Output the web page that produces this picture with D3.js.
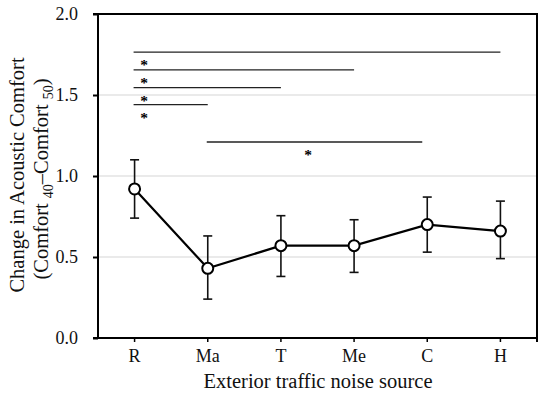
<!DOCTYPE html>
<html><head><meta charset="utf-8">
<script src="https://cdn.jsdelivr.net/npm/d3@7"></script>
<style>body{margin:0;background:#fff}svg{display:block}text{font-family:"Liberation Serif","Times New Roman",serif}</style>
</head><body><svg id="c" width="550" height="396"></svg>
<script>
const categories = ["R","Ma","T","Me","C","H"];
const means = [0.92,0.43,0.57,0.57,0.70,0.66];
const upper = [1.10,0.63,0.755,0.73,0.87,0.845];
const lower = [0.74,0.24,0.38,0.405,0.53,0.49];
const yTicks = [0.0,0.5,1.0,1.5,2.0];
const sigFrom = ["R","R","R","R","Ma"];
const sigTo = ["H","Me","T","Ma","C"];
const sigLevel = [1.765,1.655,1.545,1.44,1.21];
const sigStar = ["left","left","left","left","mid"];

const svg = d3.select("#c");
const m = {l:98,r:537,t:14,b:338};
const x = d3.scaleBand().domain(categories).range([m.l,m.r]);
const y = d3.scaleLinear().domain([0,2]).range([m.b,m.t]);
const cx = d => x(d)+x.bandwidth()/2;

// grid
svg.append("g").selectAll("line").data(yTicks.filter(v=>v>0&&v<2)).join("line")
  .attr("x1",m.l).attr("x2",m.r).attr("y1",d=>y(d)).attr("y2",d=>y(d))
  .attr("stroke","#d6d6d6").attr("stroke-width",1.2);

// y axis
const ya = svg.append("g").attr("transform",`translate(${m.l},0)`)
  .call(d3.axisLeft(y).tickValues(yTicks).tickFormat(d3.format(".1f")).tickSize(5).tickPadding(15));
ya.select(".domain").attr("stroke-width",2).attr("d",`M0,${m.t}V${m.b}`);
ya.selectAll(".tick line").attr("stroke-width",2);
ya.selectAll("text").attr("font-size",18).attr("fill","#111");

// x axis
const xa = svg.append("g").attr("transform",`translate(0,${m.b})`)
  .call(d3.axisBottom(x).tickSize(4).tickPadding(7));
xa.select(".domain").attr("stroke-width",2).attr("d",`M${m.l-5},0H${m.r}`);
xa.selectAll(".tick line").attr("stroke-width",1.5);
xa.selectAll("text").attr("font-size",18).attr("fill","#111");

// frame top and right
svg.append("path").attr("d",`M${m.l-5},${m.t}H${m.r}V${m.b+4}`).attr("fill","none").attr("stroke","#000").attr("stroke-width",2);

// significance
const sig = sigFrom.map((f,i)=>({f,t:sigTo[i],v:sigLevel[i],s:sigStar[i]}));
const x2 = d => d.s==="mid" ? cx(d.t)-5 : cx(d.t);
svg.append("g").selectAll("line").data(sig).join("line")
  .attr("x1",d=>cx(d.f)-1).attr("x2",x2)
  .attr("y1",d=>y(d.v)).attr("y2",d=>y(d.v)).attr("stroke","#222").attr("stroke-width",1.3);
svg.append("g").selectAll("text").data(sig).join("text")
  .attr("x",d=>d.s==="mid"?(cx(d.f)+x2(d))/2-7:cx(d.f)+9.5)
  .attr("y",d=>y(d.v)+18).attr("text-anchor","middle").attr("font-size",15.5).attr("font-weight","bold").attr("fill","#000").text("*");

// error bars
const eb = svg.append("g").attr("stroke","#111").attr("stroke-width",1.6);
categories.forEach((c,i)=>{
  eb.append("line").attr("x1",cx(c)).attr("x2",cx(c)).attr("y1",y(upper[i])).attr("y2",y(lower[i]));
  eb.append("line").attr("x1",cx(c)-4.5).attr("x2",cx(c)+4.5).attr("y1",y(upper[i])).attr("y2",y(upper[i]));
  eb.append("line").attr("x1",cx(c)-4.5).attr("x2",cx(c)+4.5).attr("y1",y(lower[i])).attr("y2",y(lower[i]));
});

// line
svg.append("path").datum(categories.map((c,i)=>[cx(c),y(means[i])]))
  .attr("d",d3.line()).attr("fill","none").attr("stroke","#000").attr("stroke-width",2.2);
svg.append("g").selectAll("circle").data(categories).join("circle")
  .attr("cx",d=>cx(d)).attr("cy",(d,i)=>y(means[i])).attr("r",5.5)
  .attr("fill","#fff").attr("stroke","#000").attr("stroke-width",2);

// axis labels
svg.append("text").attr("x",318).attr("y",388).attr("text-anchor","middle").attr("font-size",20.5).attr("fill","#111").text("Exterior traffic noise source");
svg.append("text").attr("transform","translate(24,175) rotate(-90)").attr("text-anchor","middle").attr("font-size",20.5).attr("fill","#111").text("Change in Acoustic Comfort");
const t2 = svg.append("text").attr("transform","translate(48,179) rotate(-90)").attr("text-anchor","middle").attr("font-size",20.5).attr("fill","#111");
t2.append("tspan").text("(Comfort ");
t2.append("tspan").attr("font-size",14).attr("dy",5).text("40");
t2.append("tspan").attr("dy",-5).text("\u2013Comfort ");
t2.append("tspan").attr("font-size",14).attr("dy",5).text("50");
t2.append("tspan").attr("dy",-5).text(")");
</script></body></html>
